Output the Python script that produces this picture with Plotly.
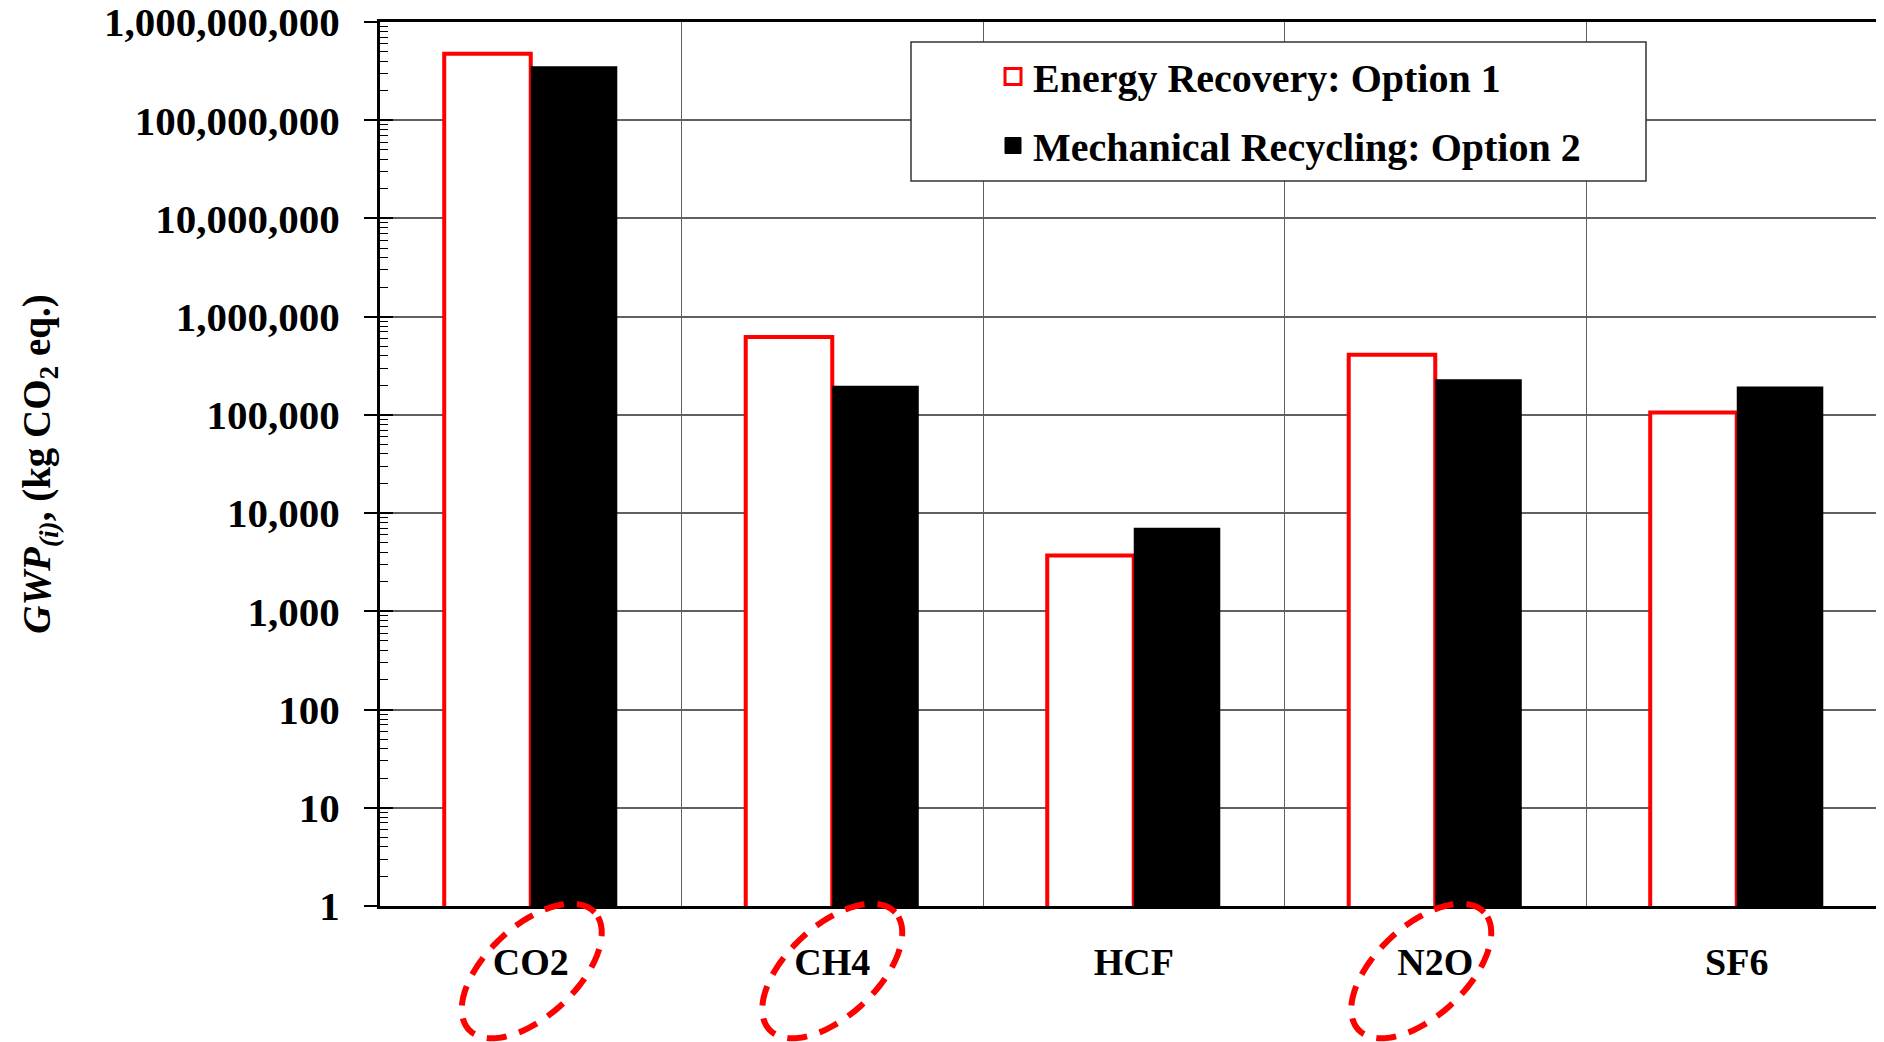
import numpy as np
import plotly.graph_objects as go

# ---------------- data ----------------
categories = ["CO2", "CH4", "HCF", "N2O", "SF6"]
energy_recovery = [4.75e8, 6.2e5, 3.7e3, 4.1e5, 1.06e5]        # Option 1
mechanical_recycling = [3.55e8, 1.98e5, 7.1e3, 2.3e5, 1.95e5]  # Option 2
series_names = ["Energy Recovery: Option 1", "Mechanical Recycling: Option 2"]
ytick_values = [1, 10, 100, 1e3, 1e4, 1e5, 1e6, 1e7, 1e8, 1e9]
ytick_labels = ["1", "10", "100", "1,000", "10,000", "100,000", "1,000,000",
                "10,000,000", "100,000,000", "1,000,000,000"]
highlighted = ["CO2", "CH4", "N2O"]
y_title = "<b><i>GWP</i><sub><i>(i)</i></sub>, (kg CO<sub>2</sub> eq.)</b>"

# ---------------- layout constants ----------------
W, H = 1876, 1034          # page body has an 8px margin
ML, MR, MT, MB = 372, 0, 14, 136
PW, PH = W - ML - MR, H - MT - MB
CAT_PX = 301.5
FONT = "Liberation Serif"
GRID = "#606060"
RED = "#ff0000"

fig = go.Figure()
fig.add_bar(x=categories, y=energy_recovery, name=series_names[0],
            showlegend=False,
            marker=dict(color="white", line=dict(color=RED, width=4)))
fig.add_bar(x=categories, y=mechanical_recycling, name=series_names[1],
            showlegend=False,
            marker=dict(color="black", line=dict(color="black", width=0)))

# legend entries (larger swatches than plotly's default bar swatch)
fig.add_scatter(x=[None], y=[None], mode="markers", name=series_names[0],
                legendgroup="a",
                marker=dict(symbol="square", size=16, color="white",
                            line=dict(color=RED, width=3)))
fig.add_scatter(x=[None], y=[None], mode="markers", name=series_names[1],
                legendgroup="b",
                marker=dict(symbol="square", size=16, color="black",
                            line=dict(color="black", width=1)))
# empty trace that carries the overlay axis used for inward major ticks
fig.add_scatter(x=[None], y=[None], yaxis="y2", showlegend=False,
                hoverinfo="skip", mode="markers")

minor_vals = [m * 10 ** k for k in range(9) for m in range(2, 10)]
x_right = -0.5 + PW / CAT_PX

fig.update_layout(
    width=W, height=H,
    margin=dict(l=ML, r=MR, t=MT, b=MB, autoexpand=False),
    paper_bgcolor="white", plot_bgcolor="white",
    font=dict(family=FONT, color="black"),
    barmode="group", bargap=0.426, bargroupgap=0,
    showlegend=True,
    legend=dict(x=(985 - ML) / PW, y=(H - MB - 36) / PH, xanchor="left", yanchor="top",
                xref="paper", yref="paper",
                font=dict(family=FONT, size=40, color="black", weight="bold"),
                bgcolor="rgba(0,0,0,0)", borderwidth=0, itemsizing="trace",
                traceorder="grouped", tracegroupgap=14),
    xaxis=dict(type="category", range=[-0.5, x_right], tickson="boundaries",
               showgrid=True, gridcolor=GRID, gridwidth=1.2,
               ticks="", showline=True, mirror=True, linecolor="black", linewidth=3,
               tickfont=dict(family=FONT, size=38, color="black", weight="bold"),
               ticklabelstandoff=20, zeroline=False, fixedrange=True),
    yaxis=dict(type="log", range=[0, 9], tickmode="array",
               tickvals=ytick_values, ticktext=ytick_labels,
               ticklabeloverflow="allow",
               ticks="outside", ticklen=13, tickwidth=1.5, tickcolor="black",
               showline=True, linecolor="black", linewidth=3,
               showgrid=True, gridcolor=GRID, gridwidth=1.5,
               minor=dict(tickmode="array", tickvals=minor_vals, ticks="inside",
                          ticklen=8, tickwidth=1.2, tickcolor="black", showgrid=False),
               tickfont=dict(family=FONT, size=41, color="black", weight="bold"),
               ticklabelstandoff=16,
               title=dict(text=y_title, standoff=42,
                          font=dict(family=FONT, size=39, color="black")),
               zeroline=False, fixedrange=True),
    yaxis2=dict(type="log", range=[0, 9], overlaying="y", side="left",
                tickmode="array", tickvals=ytick_values, showticklabels=False,
                ticks="inside", ticklen=13, tickwidth=1.5, tickcolor="black",
                showgrid=False, showline=False, zeroline=False, fixedrange=True),
)

# legend frame (white box hiding grid lines)
fig.add_shape(type="rect", xref="paper", yref="paper",
              x0=(903 - ML) / PW, x1=(1638 - ML) / PW,
              y0=(H - MB - 173) / PH, y1=(H - MB - 34) / PH,
              fillcolor="white", line=dict(color="#333333", width=1.5), layer="above")


def ellipse_path(cx, cy, a, b, theta_deg, n=160):
    t = np.linspace(0, 2 * np.pi, n, endpoint=False)
    th = np.radians(theta_deg)
    xs = cx + a * np.cos(t) * np.cos(th) - b * np.sin(t) * np.sin(th)
    ys = cy + a * np.cos(t) * np.sin(th) + b * np.sin(t) * np.cos(th)
    pts = " L".join(f"{x:.2f},{y:.2f}" for x, y in zip(xs, ys))
    return "M" + pts + " Z"


ellipse_dx = {"CO2": 1, "CH4": 0, "N2O": -14}
for cat in highlighted:
    fig.add_shape(type="path", xref="x", yref="paper",
                  xsizemode="pixel", ysizemode="pixel",
                  xanchor=categories.index(cat), yanchor=0,
                  path=ellipse_path(ellipse_dx[cat], -65, 86, 45, 43),
                  line=dict(color=RED, width=6, dash="20px,13px"),
                  fillcolor="rgba(0,0,0,0)", layer="above")

fig.write_html("out.html")
